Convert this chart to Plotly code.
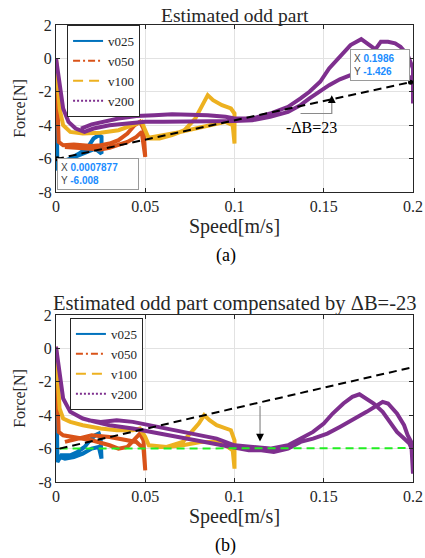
import plotly.graph_objects as go

SERIES = ["v025", "v050", "v100", "v200"]
COLORS = ["#0072BD", "#D95319", "#EDB120", "#7E2F8E"]
LEGEND_DASH = ["solid", "7px,3px,2px,3px", "10px,6px", "2px,2px"]

X_TICKS = [0, 0.05, 0.1, 0.15, 0.2]
X_TICKTEXT = ["0", "0.05", "0.1", "0.15", "0.2"]
Y_TICKS = [-8, -6, -4, -2, 0, 2]
Y_TICKTEXT = ["-8", "-6", "-4", "-2", "0", "2"]

# ---------------- (a) Estimated odd part ----------------
SPEED_V025_A = [0, 0.0004, 0.0008, 0.003, 0.008, 0.013, 0.018, 0.021, 0.024, 0.0255, 0.0255, 0.022, 0.018, 0.013, 0.008, 0.003]
FORCE_V025_A = [0, -3.5, -6.7, -6.2, -6.0, -5.7, -5.3, -4.8, -4.6, -4.7, -5.7, -5.4, -5.6, -5.8, -6.0, -6.2]

SPEED_V050_A = [0, 0.0008, 0.0015, 0.004, 0.01, 0.015, 0.02, 0.025, 0.03, 0.035, 0.04, 0.044, 0.047, 0.049, 0.0495, 0.05,
                0.048, 0.045, 0.04, 0.035, 0.03, 0.025, 0.02, 0.015, 0.01, 0.005]
FORCE_V050_A = [0, -2.5, -5.0, -5.2, -5.15, -5.2, -5.25, -5.2, -5.1, -4.9, -4.5, -4.0, -3.8, -4.2, -5.0, -5.9,
                -4.4, -4.7, -5.0, -5.2, -5.35, -5.45, -5.4, -5.35, -5.3, -5.3]

SPEED_V100_A = [0, 0.001, 0.002, 0.004, 0.008, 0.015, 0.025, 0.035, 0.045, 0.048, 0.05, 0.052, 0.058, 0.065, 0.072,
                0.078, 0.082, 0.085, 0.088, 0.093, 0.098, 0.1, 0.1, 0.099, 0.095, 0.09, 0.08, 0.07, 0.06, 0.052]
FORCE_V100_A = [0, -1.5, -3.0, -4.0, -4.4, -4.5, -4.45, -4.3, -3.95, -3.8, -4.3, -4.8, -4.8, -4.6, -4.3,
                -3.6, -2.8, -2.2, -2.5, -2.8, -3.0, -3.3, -5.1, -4.0, -3.8, -3.9, -4.15, -4.4, -4.6, -4.75]

SPEED_V200_A = [0, 0.001, 0.002, 0.004, 0.007, 0.011, 0.016, 0.021, 0.03, 0.04, 0.05, 0.06, 0.07, 0.08, 0.09, 0.1,
                0.11, 0.12, 0.13, 0.137, 0.142, 0.148, 0.153, 0.159, 0.165, 0.172, 0.177, 0.182, 0.186, 0.19, 0.193,
                0.197, 0.2, 0.2, 0.2, 0.199, 0.194, 0.188, 0.182, 0.176, 0.171, 0.165, 0.159, 0.153, 0.148, 0.142,
                0.137, 0.13, 0.12, 0.11, 0.1, 0.095, 0.085, 0.075, 0.065, 0.055, 0.045, 0.035, 0.028, 0.02, 0.014]
FORCE_V200_A = [0, -0.8, -1.8, -3.0, -3.8, -4.2, -4.4, -4.2, -4.0, -3.9, -3.8, -3.8, -3.8, -3.8, -3.8, -3.75,
                -3.7, -3.5, -3.2, -2.8, -2.4, -1.95, -1.6, -1.25, -1.0, -0.5, 0.3, 1.0, 1.0, 0.9, 0.7,
                0.2, -0.6, -2.7, -1.4, -1.2, -0.8, -0.3, 0.3, 0.8, 1.15, 0.8, 0.1, -0.6, -1.4, -2.0,
                -2.4, -2.9, -3.3, -3.6, -3.6, -3.5, -3.4, -3.35, -3.35, -3.4, -3.45, -3.6, -3.75, -3.95, -4.2]

DASH_A_X = [0, 0.2]
DASH_A_Y = [-6.03, -1.39]
TIP_A_X = [0.0007877, 0.1986]
TIP_A_Y = [-6.008, -1.426]

# ---------------- (b) compensated by dB = -23 ----------------
SPEED_V025_B = [0, 0.0004, 0.0008, 0.003, 0.008, 0.012, 0.016, 0.019, 0.022, 0.024, 0.025, 0.0255, 0.024, 0.02, 0.015, 0.01, 0.005, 0.002]
FORCE_V025_B = [0, -3.5, -6.8, -6.4, -6.4, -6.2, -5.9, -5.5, -5.2, -5.1, -5.4, -6.6, -5.9, -6.0, -6.3, -6.5, -6.6, -6.5]

SPEED_V050_B = [0, 0.0008, 0.0015, 0.004, 0.01, 0.02, 0.03, 0.035, 0.04, 0.044, 0.047, 0.049, 0.05,
                0.049, 0.045, 0.04, 0.03, 0.02, 0.01, 0.005]
FORCE_V050_B = [0.1, -2.5, -5.0, -5.2, -5.3, -5.5, -5.8, -6.0, -5.9, -5.4, -5.1, -5.5, -7.3,
                -6.0, -5.6, -5.5, -5.3, -5.2, -5.5, -5.6]

SPEED_V100_B = [0, 0.001, 0.002, 0.004, 0.008, 0.015, 0.025, 0.034, 0.043, 0.047, 0.05, 0.052, 0.062, 0.071, 0.076,
                0.08, 0.083, 0.086, 0.09, 0.095, 0.098, 0.1, 0.1, 0.099, 0.095, 0.09, 0.081, 0.071, 0.062, 0.055]
FORCE_V100_B = [0, -2.0, -3.6, -4.2, -4.4, -4.6, -4.8, -4.9, -4.9, -4.8, -5.3, -5.8, -5.9, -5.6, -5.0,
                -4.5, -4.0, -4.3, -4.6, -4.8, -4.9, -5.5, -7.2, -6.1, -5.8, -5.6, -5.6, -5.8, -5.9, -5.9]

SPEED_V200_B = [0, 0.001, 0.002, 0.004, 0.008, 0.015, 0.022, 0.03, 0.043, 0.053, 0.062, 0.071, 0.081, 0.09, 0.1,
                0.108, 0.115, 0.122, 0.13, 0.137, 0.144, 0.152, 0.159, 0.166, 0.174, 0.18, 0.183, 0.186, 0.191,
                0.195, 0.197, 0.199, 0.2, 0.2, 0.2, 0.198, 0.195, 0.191, 0.187, 0.183, 0.178, 0.174, 0.17, 0.166,
                0.161, 0.155, 0.15, 0.144, 0.137, 0.13, 0.12, 0.11, 0.1, 0.09, 0.081, 0.071, 0.062, 0.053, 0.043,
                0.034, 0.025, 0.018]
FORCE_V200_B = [0.1, -0.8, -1.5, -3.0, -3.8, -4.2, -4.4, -4.6, -4.8, -5.0, -5.2, -5.4, -5.6, -5.8, -6.0,
                -6.1, -6.1, -6.2, -6.0, -5.6, -5.4, -5.1, -4.7, -4.3, -3.8, -3.4, -3.2, -3.3, -3.9,
                -4.6, -5.2, -5.6, -6.9, -7.5, -6.2, -5.7, -5.4, -5.0, -4.4, -3.8, -3.3, -3.0, -2.75, -2.9,
                -3.3, -3.9, -4.5, -5.0, -5.4, -5.8, -6.0, -5.9, -5.8, -5.4, -5.2, -5.0, -4.8, -4.6, -4.4,
                -4.3, -4.4, -4.3]

DASH_B_X = [0.002, 0.2]
DASH_B_Y = [-6.0, -1.12]
GREEN_B_X = [0.002, 0.1975]
GREEN_B_Y = [-6.0, -5.97]

SERIF = "Liberation Serif, Times New Roman, serif"
SANS = "Liberation Sans, Arial, sans-serif"
AX = "#262626"

DATA_A = [(SPEED_V025_A, FORCE_V025_A), (SPEED_V050_A, FORCE_V050_A),
          (SPEED_V100_A, FORCE_V100_A), (SPEED_V200_A, FORCE_V200_A)]
DATA_B = [(SPEED_V025_B, FORCE_V025_B), (SPEED_V050_B, FORCE_V050_B),
          (SPEED_V100_B, FORCE_V100_B), (SPEED_V200_B, FORCE_V200_B)]

fig = go.Figure()

for (xs, ys), name, col in zip(DATA_A, SERIES, COLORS):
    fig.add_trace(go.Scatter(x=xs, y=ys, mode="lines", name=name, showlegend=False,
                             line=dict(color=col, width=4), xaxis="x", yaxis="y", hoverinfo="skip"))
fig.add_trace(go.Scatter(x=DASH_A_X, y=DASH_A_Y, mode="lines", showlegend=False,
                         line=dict(color="black", width=2, dash="8px,5px"), xaxis="x", yaxis="y"))
fig.add_trace(go.Scatter(x=TIP_A_X, y=TIP_A_Y, mode="markers", showlegend=False,
                         marker=dict(color="black", size=5), xaxis="x", yaxis="y"))

for (xs, ys), name, col in zip(DATA_B, SERIES, COLORS):
    fig.add_trace(go.Scatter(x=xs, y=ys, mode="lines", name=name, showlegend=False,
                             line=dict(color=col, width=4), xaxis="x2", yaxis="y2", hoverinfo="skip"))
fig.add_trace(go.Scatter(x=GREEN_B_X, y=GREEN_B_Y, mode="lines", showlegend=False,
                         line=dict(color="#22ee22", width=2, dash="8px,5px"), xaxis="x2", yaxis="y2"))
fig.add_trace(go.Scatter(x=DASH_B_X, y=DASH_B_Y, mode="lines", showlegend=False,
                         line=dict(color="black", width=2, dash="8px,5px"), xaxis="x2", yaxis="y2"))

# legend entries
for name, col, dash in zip(SERIES, COLORS, LEGEND_DASH):
    fig.add_trace(go.Scatter(x=[None], y=[None], mode="lines", name=name, legend="legend",
                             line=dict(color=col, width=2, dash=dash), xaxis="x", yaxis="y"))
for name, col, dash in zip(SERIES, COLORS, LEGEND_DASH):
    fig.add_trace(go.Scatter(x=[None], y=[None], mode="lines", name=name, legend="legend2",
                             line=dict(color=col, width=2, dash=dash), xaxis="x2", yaxis="y2"))


def xaxis_cfg(anchor):
    return dict(domain=[0, 1], anchor=anchor, range=[0, 0.2], tickvals=X_TICKS, ticktext=X_TICKTEXT,
                showgrid=True, gridcolor="#e2e2e2", gridwidth=1, zeroline=False, automargin=False,
                ticks="inside", ticklen=4, tickcolor=AX, showline=True, linecolor=AX, linewidth=1,
                mirror="ticks", tickfont=dict(family=SERIF, size=16, color=AX),
                title=dict(text="Speed[m/s]", font=dict(family=SERIF, size=20, color=AX), standoff=1))


def yaxis_cfg(anchor, dom):
    return dict(domain=dom, anchor=anchor, range=[-8, 2], tickvals=Y_TICKS, ticktext=Y_TICKTEXT,
                showgrid=True, gridcolor="#e2e2e2", gridwidth=1, zeroline=False, automargin=False,
                ticks="inside", ticklen=4, tickcolor=AX, showline=True, linecolor=AX, linewidth=1,
                mirror="ticks", tickfont=dict(family=SERIF, size=16, color=AX),
                title=dict(text="Force[N]", font=dict(family=SERIF, size=16, color=AX), standoff=8))


legend_common = dict(xanchor="left", yanchor="top", bgcolor="white", bordercolor=AX, borderwidth=1,
                     font=dict(family=SERIF, size=13, color=AX), tracegroupgap=0, itemwidth=30)

tip_text_1 = ("<span style='color:#444'>X</span> <b>0.0007877</b><br>"
              "<span style='color:#444'>Y</span> <b>-6.008</b>")
tip_text_2 = ("<span style='color:#444'>X</span> <b>0.1986</b><br>"
              "<span style='color:#444'>Y</span> <b>-1.426</b>")

annotations = [
    dict(text="Estimated odd part", x=0.5, y=1.02, xref="paper", yref="paper", showarrow=False,
         xanchor="center", yanchor="middle", font=dict(family=SERIF, size=19.5, color=AX)),
    dict(text="Estimated odd part compensated by \u0394B=-23", x=0.5, y=0.3895, xref="paper", yref="paper",
         showarrow=False, xanchor="center", yanchor="middle", font=dict(family=SERIF, size=20.5, color=AX)),
    dict(text="(a)", x=0.476, y=0.4967, xref="paper", yref="paper", showarrow=False,
         xanchor="center", yanchor="middle", font=dict(family=SERIF, size=18, color="black")),
    dict(text="(b)", x=0.476, y=-0.14, xref="paper", yref="paper", showarrow=False,
         xanchor="center", yanchor="middle", font=dict(family=SERIF, size=18, color="black")),
    dict(text=tip_text_1, x=0.0006, y=-5.96, xref="x", yref="y", showarrow=False, xanchor="left", yanchor="top",
         align="left", bgcolor="white", bordercolor="#9a9a9a", borderwidth=1, borderpad=3, width=74,
         font=dict(family=SANS, size=10, color="#1a8cff")),
    dict(text=tip_text_2, x=0.1647, y=0.56, xref="x", yref="y", showarrow=False, xanchor="left", yanchor="top",
         align="left", bgcolor="white", bordercolor="#9a9a9a", borderwidth=1, borderpad=3, width=52,
         font=dict(family=SANS, size=10, color="#1a8cff")),
    dict(text="-\u0394B=23", x=0.143, y=-4.13, xref="x", yref="y", showarrow=False,
         xanchor="center", yanchor="middle", font=dict(family=SERIF, size=16, color="black")),
    dict(text="", x=0.1545, y=-2.2, ax=0.1545, ay=-2.6, xref="x", yref="y", axref="x", ayref="y",
         showarrow=True, arrowhead=2, arrowsize=1.3, arrowwidth=1.2, arrowcolor="black"),
    dict(text="", x=0.1143, y=-5.58, ax=0.1143, ay=-5.2, xref="x2", yref="y2", axref="x2", ayref="y2",
         showarrow=True, arrowhead=2, arrowsize=1.3, arrowwidth=1.2, arrowcolor="black"),
]

shapes = [
    dict(type="path", path="M 0.137,-3.3 L 0.1545,-3.3 L 0.1545,-2.6", xref="x", yref="y",
         line=dict(color="#8a8a8a", width=1.2)),
    dict(type="line", x0=0.1143, x1=0.1143, y0=-3.45, y1=-5.2, xref="x2", yref="y2",
         line=dict(color="#8a8a8a", width=1.2)),
]

fig.update_layout(
    width=425, height=558,
    margin=dict(l=56, r=12, t=25, b=76, autoexpand=False),
    paper_bgcolor="white", plot_bgcolor="white",
    xaxis=xaxis_cfg("y"), yaxis=yaxis_cfg("x", [0.6346, 1]),
    xaxis2=xaxis_cfg("y2"), yaxis2=yaxis_cfg("x2", [0, 0.3654]),
    legend=dict(x=0.031, y=1.0, **legend_common),
    legend2=dict(x=0.039, y=0.3589, **legend_common),
    annotations=annotations, shapes=shapes,
    hovermode=False,
)

# remove the default 8px page margin so the figure fills the window exactly
fig.write_html("out.html", config={"displayModeBar": False},
               post_script="document.body.style.margin='0px';document.body.style.overflow='hidden';")
